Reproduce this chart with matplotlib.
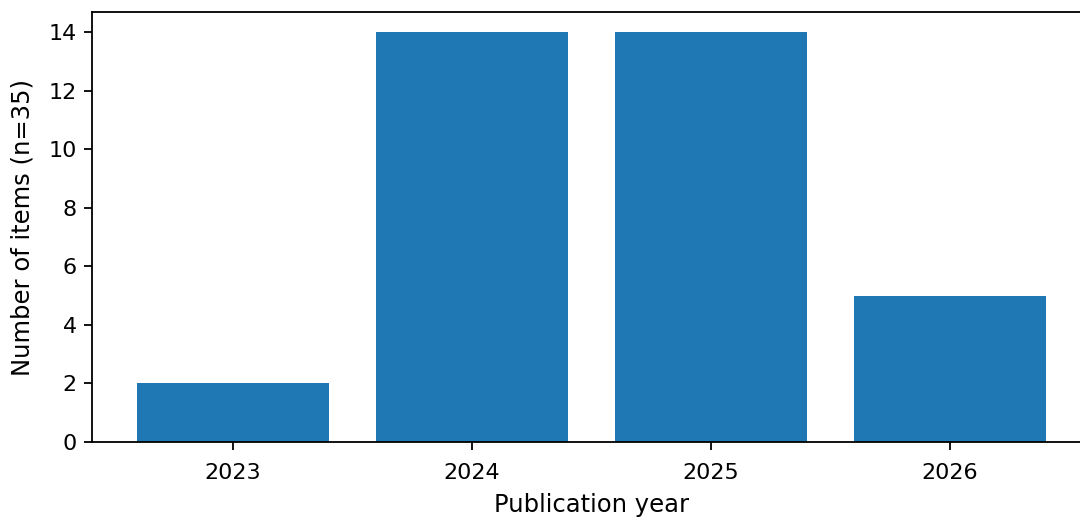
import matplotlib
matplotlib.use("Agg")
import matplotlib.pyplot as plt

# dados
anos = ["2023", "2024", "2025", "2026"]
contagens = [2, 14, 14, 5]

plt.rcParams["font.size"] = 17
plt.rcParams["axes.linewidth"] = 1.3
plt.rcParams["xtick.major.size"] = 6
plt.rcParams["ytick.major.size"] = 6
plt.rcParams["xtick.major.width"] = 1.3
plt.rcParams["ytick.major.width"] = 1.3

fig = plt.figure(figsize=(10.8, 5.23), dpi=100)
# eixo deslocado: a borda direita fica fora da imagem (como na referencia)
ax = fig.add_axes([92 / 1080, 81 / 523, 999 / 1080, 430 / 523])
ax.bar(anos, contagens, color="#1f77b4", width=0.8)
ax.set_xlabel("Publication year", fontsize=17.5, labelpad=7)
ax.set_ylabel("Number of items (n=35)", fontsize=17.5, labelpad=10)
ax.tick_params(axis="x", labelsize=16, pad=9)
ax.tick_params(axis="y", labelsize=16, pad=5)

fig.savefig("out.png", dpi=100)
